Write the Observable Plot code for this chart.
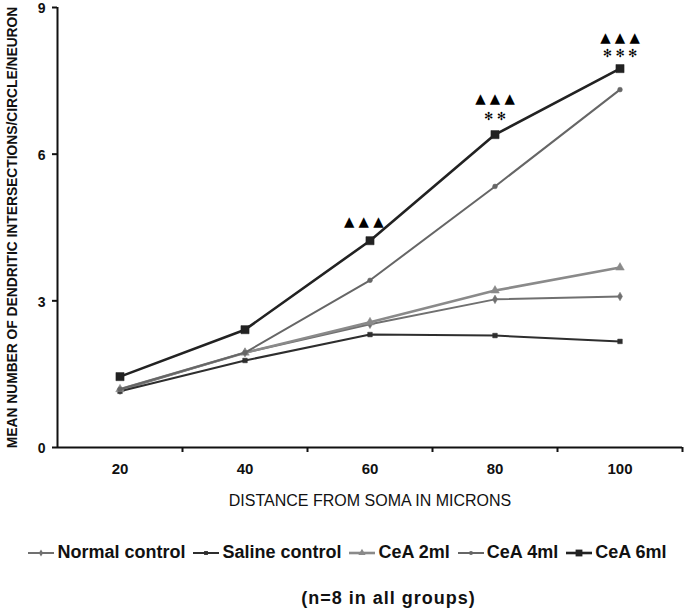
<!DOCTYPE html>
<html><head><meta charset="utf-8">
<script src="https://cdn.jsdelivr.net/npm/d3@7"></script>
<script src="https://cdn.jsdelivr.net/npm/@observablehq/plot@0.6"></script>
<style>
body{margin:0;background:#fff;font-family:"Liberation Sans",Arial,sans-serif;}
#wrap{position:relative;width:688px;height:612px;overflow:hidden;}
#legend{position:absolute;left:0;top:542px;width:695px;display:flex;justify-content:center;align-items:center;font-weight:bold;font-size:18px;color:#111;white-space:nowrap;}
#legend .item{display:flex;align-items:center;margin-right:8px;}
#legend .item:last-child{margin-right:0;}
#legend svg{margin-right:3px;}
#caption{position:absolute;left:0;top:588px;width:777px;text-align:center;font-weight:bold;font-size:18px;letter-spacing:1px;color:#111;white-space:nowrap;}
</style></head>
<body><div id="wrap"><div id="chart"></div><div id="legend"></div><div id="caption">(n=8 in all groups)</div></div>
<script>
const distances = [20, 40, 60, 80, 100];
const seriesNames = ["Normal control", "Saline control", "CeA 2ml", "CeA 4ml", "CeA 6ml"];
const normalControl = [1.17, 1.94, 2.52, 3.03, 3.09];
const salineControl = [1.15, 1.78, 2.31, 2.29, 2.17];
const cea2ml = [1.19, 1.94, 2.56, 3.21, 3.68];
const cea4ml = [1.19, 1.94, 3.42, 5.34, 7.32];
const cea6ml = [1.45, 2.41, 4.23, 6.40, 7.75];
const yTicks = [0, 3, 6, 9];
const xBoundaryTicks = [30, 50, 70, 90, 110];
const annotX = [59, 80, 80, 100, 100];
const annotY = [4.62, 7.14, 6.77, 8.39, 8.06];
const annotText = ["▲ ▲ ▲", "▲ ▲ ▲", "✻ ✻", "▲ ▲ ▲", "✻ ✻ ✻"];
const yLabel = "MEAN NUMBER OF DENDRITIC INTERSECTIONS/CIRCLE/NEURON";
const xLabel = "DISTANCE FROM SOMA IN MICRONS";

const values = [normalControl, salineControl, cea2ml, cea4ml, cea6ml];
const styles = [
  {stroke: "#707070", width: 2, symbol: "diamond", r: 2.6, fill: "#707070"},
  {stroke: "#2e2e2e", width: 2, symbol: "square", r: 2.6, fill: "#2e2e2e"},
  {stroke: "#8a8a8a", width: 2.6, symbol: "triangle", r: 3.2, fill: "#8a8a8a"},
  {stroke: "#666666", width: 2, symbol: "circle", r: 2.4, fill: "#666666"},
  {stroke: "#222222", width: 2.6, symbol: "square", r: 4.6, fill: "#222222"}
];
const data = seriesNames.map((name, i) => distances.map((d, j) => ({name, x: d, y: values[i][j]})));
const annots = annotText.map((t, i) => ({x: annotX[i], y: annotY[i], t, star: t.includes("✻")}));

const marks = [];
data.forEach((rows, i) => {
  const s = styles[i];
  marks.push(Plot.line(rows, {x: "x", y: "y", stroke: s.stroke, strokeWidth: s.width}));
  marks.push(Plot.dot(rows, {x: "x", y: "y", symbol: () => s.symbol, r: s.r, fill: s.fill, stroke: s.fill, strokeWidth: 0.5}));
});

const chart = Plot.plot({
  width: 688, height: 520,
  marginLeft: 57, marginRight: 6, marginTop: 7, marginBottom: 73,
  style: {fontFamily: "'Liberation Sans', Arial, sans-serif", background: "#fff", color: "#111"},
  x: {type: "linear", domain: [10, 110]},
  y: {domain: [0, 9]},
  symbol: {type: "identity"},
  marks: [
    Plot.axisY({ticks: yTicks, tickSize: 5, tickFormat: () => "", label: null, strokeWidth: 2}),
    Plot.axisY({ticks: yTicks, tickSize: 0, tickPadding: 12, label: null, fontSize: 14, fontWeight: "bold", dy: 1.5}),
    Plot.axisX({ticks: xBoundaryTicks, tickSize: 5, tickFormat: () => "", label: null, strokeWidth: 2}),
    Plot.axisX({ticks: distances, tickSize: 0, tickPadding: 16, label: null, fontSize: 15, fontWeight: "bold"}),
    Plot.ruleX([10], {stroke: "#111", strokeWidth: 2}),
    Plot.ruleY([0], {stroke: "#111", strokeWidth: 2}),
    ...marks,
    Plot.text(annots.filter(d => !d.star), {x: "x", y: "y", text: "t", fontSize: 13.5, fontFamily: "DejaVu Sans", fill: "#000", lineAnchor: "middle"}),
    Plot.text(annots.filter(d => d.star), {x: "x", y: "y", text: "t", fontSize: 11, fontFamily: "DejaVu Sans", fill: "#000", lineAnchor: "middle"}),
    Plot.text([yLabel], {frameAnchor: "left", dx: -45, rotate: -90, text: d => d, fontSize: 13.8, fontWeight: "bold", fill: "#111", textAnchor: "middle"}),
    Plot.text([xLabel], {frameAnchor: "bottom", dy: 58, text: d => d, fontSize: 16, fill: "#111", textAnchor: "middle"})
  ]
});
document.getElementById("chart").appendChild(chart);

const legend = document.getElementById("legend");
const symMap = {diamond: d3.symbolDiamond, square: d3.symbolSquare, triangle: d3.symbolTriangle, circle: d3.symbolCircle};
seriesNames.forEach((name, i) => {
  const s = styles[i];
  const item = document.createElement("div");
  item.className = "item";
  const sw = d3.create("svg").attr("width", 26).attr("height", 12);
  sw.append("line").attr("x1", 0).attr("x2", 26).attr("y1", 6).attr("y2", 6).attr("stroke", s.stroke).attr("stroke-width", s.width);
  sw.append("path").attr("transform", "translate(13,6)").attr("d", d3.symbol(symMap[s.symbol], Math.PI * s.r * s.r * 0.7)()).attr("fill", s.fill);
  item.appendChild(sw.node());
  const t = document.createElement("span");
  t.textContent = name;
  item.appendChild(t);
  legend.appendChild(item);
});
</script></body></html>
